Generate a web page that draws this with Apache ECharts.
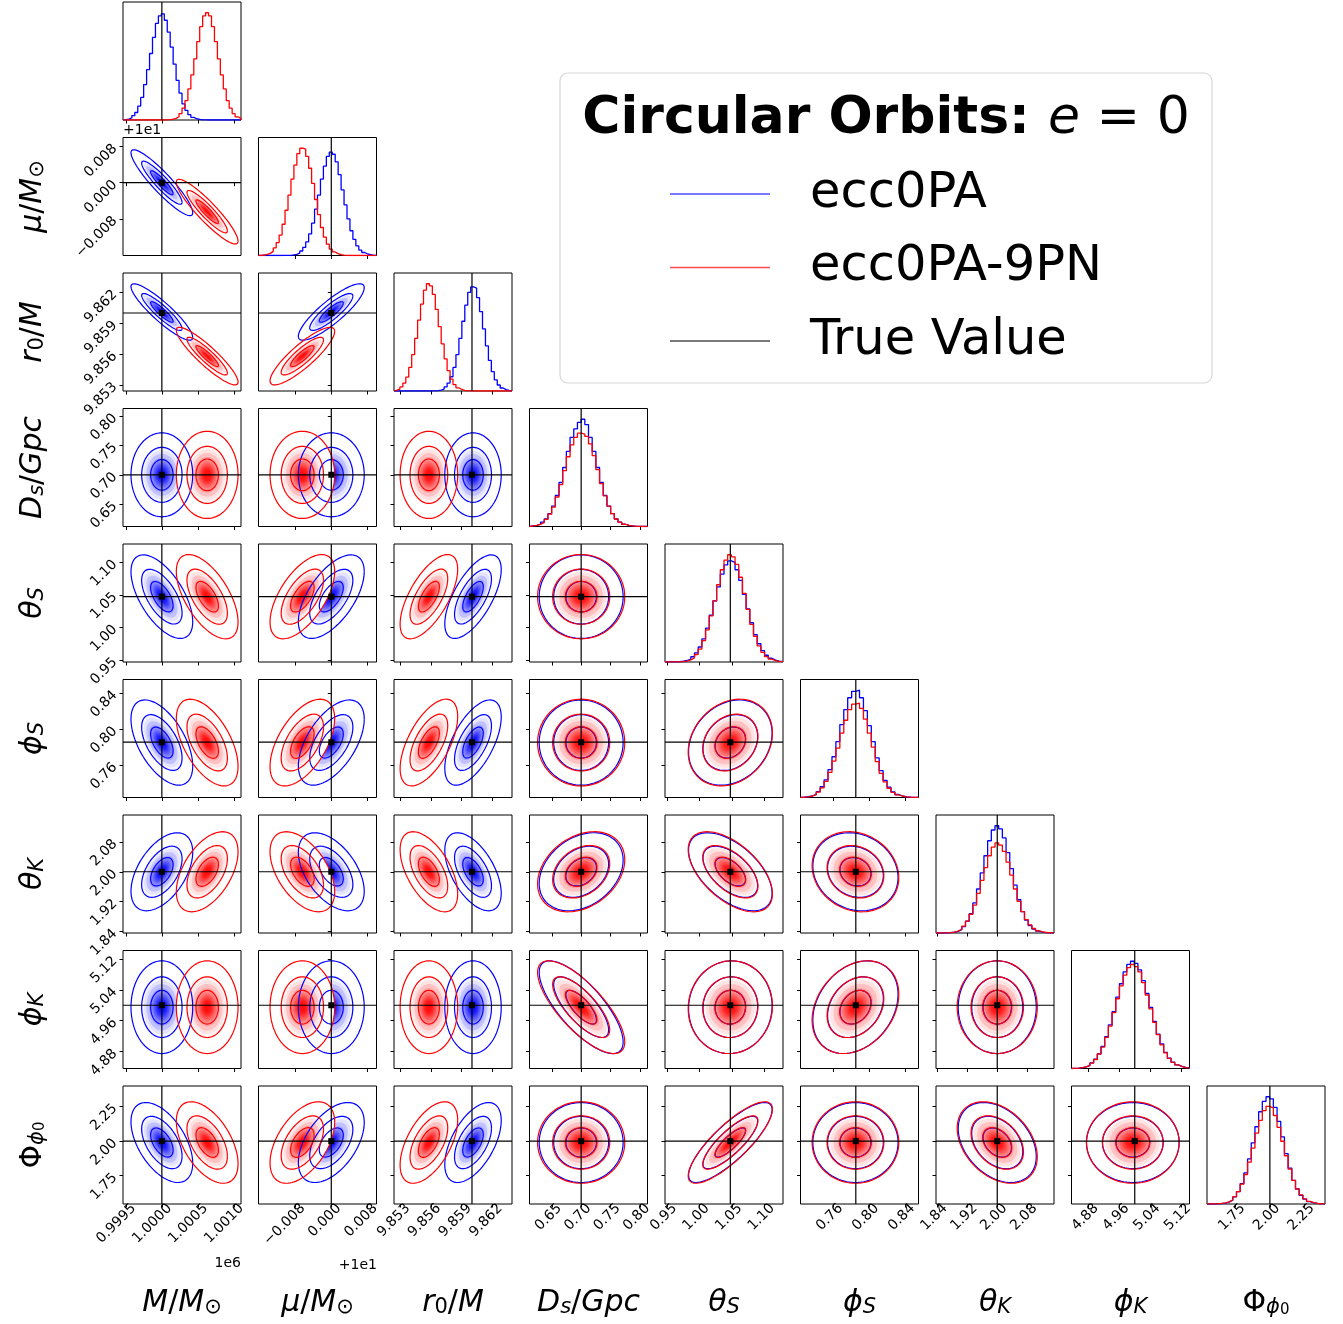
<!DOCTYPE html>
<html>
<head>
<meta charset="utf-8">
<title>Circular Orbits: e = 0</title>
<script src="https://cdn.jsdelivr.net/npm/echarts@6/dist/echarts.min.js"></script>
<style>
  html, body { margin: 0; padding: 0; background: #fff; }
  #chart { width: 1343px; height: 1324px; }
</style>
</head>
<body>
<div id="chart"></div>
<script>
// parameter order: M (x1e6), mu (offset +1e1), r0, Ds, thetaS, phiS, thetaK, phiK, Phi_phi0
const axisMin = [0.99946, -0.0161, 9.8524, 0.612, 0.947, 0.724, 1.836, 4.836, 1.546];
const axisMax = [1.0011, 0.0100, 9.8639, 0.813, 1.128, 0.855, 2.152, 5.142, 2.398];

const tickM = [0.9995, 1.0000, 1.0005, 1.0010];
const tickMu = [-0.008, 0, 0.008];
const tickR0 = [9.853, 9.856, 9.859, 9.862];
const tickDs = [0.65, 0.70, 0.75, 0.80];
const tickThetaS = [0.95, 1.00, 1.05, 1.10];
const tickPhiS = [0.76, 0.80, 0.84];
const tickThetaK = [1.84, 1.92, 2.00, 2.08];
const tickPhiK = [4.88, 4.96, 5.04, 5.12];
const tickPhi0 = [1.75, 2.00, 2.25];
const tickDecimals = [4, 3, 3, 2, 2, 2, 2, 2, 2];

const trueValues = [1.0, 0.0, 9.860, 0.70, 1.0472, 0.7854, 2.0, 5.0, 2.0];

// 2D posterior summaries (centre, spread, correlation)
const meanBlue = [1.0000, 0.0000, 9.8601, 0.700, 1.0472, 0.785, 2.000, 4.995, 1.990];
const meanRed = [1.00063, -0.0064, 9.8558, 0.700, 1.0472, 0.785, 2.000, 4.995, 1.990];
const sigmaBlue = [0.000156, 0.00265, 0.00100, 0.026, 0.0233, 0.0172, 0.038, 0.0437, 0.105];
const sigmaRed = [0.000156, 0.00260, 0.00102, 0.027, 0.0235, 0.0175, 0.039, 0.0437, 0.107];
const corrLower = [
  [],
  [-0.91],
  [-0.90, 0.86],
  [0, 0, 0],
  [-0.6, 0.6, 0.65, 0],
  [-0.55, 0.55, 0.6, 0, 0.22],
  [0.5, -0.5, -0.55, 0.3, -0.55, -0.15],
  [0, 0, 0, -0.75, 0.03, 0.28, 0],
  [-0.52, 0.5, 0.55, 0, 0.82, 0, -0.35, 0]
];

// 1D histograms (bins span the axis range)
const histBlueM = [0.4, 0.9, 2, 4, 7, 13, 21, 33, 47, 62, 77, 90, 97, 99, 93, 82, 68, 52, 37, 25, 15, 9, 5, 2.5, 1.2, 0.5, 0.2, 0.1, 0, 0, 0, 0, 0, 0, 0, 0, 0, 0, 0, 0];
const histRedM = [0, 0, 0, 0, 0, 0, 0, 0, 0, 0, 0, 0, 0, 0, 0.1, 0.3, 0.7, 1.5, 3, 6, 11, 18, 29, 42, 57, 73, 87, 97, 100, 97, 87, 73, 57, 42, 29, 18, 11, 6, 3, 1.5];
const histBlueMu = [0, 0, 0, 0, 0, 0, 0, 0, 0.05, 0.1, 0.2, 0.5, 1.1, 2.2, 4.2, 7.5, 12.6, 20, 30, 43, 56, 71, 83, 92, 96, 94, 87, 75, 61, 47, 34, 23, 15, 9, 5, 2.8, 1.4, 0.7, 0.3, 0.1];
const histRedMu = [0.2, 0.45, 1, 2, 3.8, 7, 12, 19, 29, 42, 56, 71, 84, 94.5, 99.6, 98.8, 92, 81, 67, 52, 38, 26, 17, 10.5, 6, 3.3, 1.7, 0.8, 0.35, 0.15, 0, 0, 0, 0, 0, 0, 0, 0, 0, 0];
const histBlueR0 = [0, 0, 0, 0, 0, 0, 0, 0, 0, 0, 0, 0, 0.05, 0.1, 0.3, 0.8, 1.8, 3.8, 7.4, 13.3, 22, 34, 49, 65, 80, 92, 97, 96, 87, 74, 58, 42, 28.5, 18, 10.4, 5.6, 2.8, 1.3, 0.6, 0.2];
const histRedR0 = [0.8, 1.8, 3.8, 7.4, 13, 22, 34, 49, 66, 81, 94, 100, 98, 90, 76, 60, 44, 30, 19, 11, 6, 3, 1.4, 0.6, 0.25, 0.1, 0, 0, 0, 0, 0, 0, 0, 0, 0, 0, 0, 0, 0, 0];
const histBlueDs = [0.5, 1, 2.1, 4, 7, 12, 19, 29, 41, 55, 70, 83, 91, 97, 100, 95, 83, 70, 55, 41, 29, 19, 12, 7, 4, 2.1, 1, 0.5, 0.2, 0.1, 0, 0];
const histRedDs = [0.5, 1, 2, 3.8, 6.6, 11.5, 18, 27.5, 39, 52, 65, 76, 83, 87, 86, 84, 77, 66, 53, 40, 28.5, 19, 12, 7, 4, 2.1, 1, 0.5, 0.2, 0.1, 0, 0];
const histBlueThetaS = [0.05, 0.1, 0.2, 0.35, 0.7, 1.4, 2.7, 4.9, 8.5, 14, 21.5, 31.5, 43.6, 57, 70, 82, 90.5, 94.3, 92.8, 86, 76, 63, 49.5, 36.6, 25.6, 17, 10.6, 6.3, 3.5, 1.8, 0.9, 0.4];
const histRedThetaS = [0, 0.05, 0.1, 0.2, 0.4, 0.9, 2, 3.8, 7, 12, 20, 30, 43, 57, 72, 86, 95, 100, 98, 91, 79, 64, 49, 35, 24, 15, 9, 5, 2.7, 1.3, 0.6, 0.3];
const histBluePhiS = [0.3, 0.7, 1.4, 2.9, 5.5, 10, 16.5, 26, 38, 52, 68, 82, 93, 99, 100, 93, 81, 67, 52, 37, 25, 16, 9.6, 5.3, 2.8, 1.4, 0.6, 0.3, 0.1, 0.05];
const histRedPhiS = [0.3, 0.6, 1.3, 2.6, 5, 9, 15, 23.5, 34, 46, 60, 72, 82, 87, 88, 83, 73, 60, 47, 33.5, 22.5, 14.5, 8.6, 4.8, 2.5, 1.2, 0.6, 0.3, 0.1, 0.05];
const histBlueThetaK = [0, 0, 0.05, 0.3, 0.7, 1.5, 3.2, 6, 11, 18, 28, 41, 56, 72, 86, 96, 100, 97, 88.6, 75, 60, 44.6, 31, 20, 12, 7, 3.7, 1.8, 0.8, 0.35, 0.15, 0.05];
const histRedThetaK = [0, 0.05, 0.15, 0.4, 0.9, 1.8, 3.5, 6.5, 11, 17.5, 26, 37, 49, 61, 72, 80, 84, 82, 76, 66, 54, 41, 29.5, 20, 12.5, 7.5, 4.2, 2.1, 1, 0.45, 0.2, 0.1];
const histBluePhiK = [0.2, 0.4, 0.8, 1.6, 3, 5.2, 8.6, 13.6, 20.6, 29.7, 40.7, 53, 66.5, 79, 90, 97, 100, 98, 92, 82, 70, 57, 44, 32, 23, 15, 9.7, 5.9, 3.4, 1.9, 1, 0.5];
const histRedPhiK = [0.2, 0.4, 0.8, 1.5, 2.9, 5, 8.4, 13.5, 20, 29, 39.5, 52, 65, 77, 87, 94, 97, 95, 90, 80, 68.5, 55.5, 43, 31.5, 22, 14.6, 9.4, 5.7, 3.3, 1.8, 0.9, 0.5];
const histBluePhi0 = [0.02, 0.05, 0.1, 0.35, 0.8, 1.8, 3.5, 6.6, 11.6, 19, 29, 42, 57, 72, 86, 95.6, 100, 98, 90, 77, 62.5, 47, 33.5, 22, 14, 8, 4.5, 2.3, 1.1, 0.5, 0.2, 0.1];
const histRedPhi0 = [0.05, 0.1, 0.25, 0.5, 1, 2, 3.8, 6.8, 11.5, 18.5, 27.5, 39, 52, 66, 78, 87, 91, 89.5, 82.5, 71.5, 58.5, 45, 32.5, 22, 14, 8.5, 4.8, 2.5, 1.2, 0.6, 0.25, 0.1];

const modelNames = ['ecc0PA', 'ecc0PA-9PN'];
const truthName = 'True Value';

// ---- tables built from the arrays above ----
const ticks = [tickM, tickMu, tickR0, tickDs, tickThetaS, tickPhiS, tickThetaK, tickPhiK, tickPhi0];
const histBlue = [histBlueM, histBlueMu, histBlueR0, histBlueDs, histBlueThetaS, histBluePhiS, histBlueThetaK, histBluePhiK, histBluePhi0];
const histRed = [histRedM, histRedMu, histRedR0, histRedDs, histRedThetaS, histRedPhiS, histRedThetaK, histRedPhiK, histRedPhi0];
const means = [meanBlue, meanRed];
const sigmas = [sigmaBlue, sigmaRed];
const hists = [histBlue, histRed];

// ---- style ----
const FONT = 'DejaVu Sans';
const modelColors = ['#0000ff', '#ff0000'];
const N = 9;
const L0 = 123, T0 = 2, STEP = 135.5, SIZE = 118;
const contourRadii = [1.0, 1.8, 2.75];
const maskRadius = 2.75;
const densityRadii = [1.9, 1.6, 1.38, 1.13, 0.98, 0.86, 0.77, 0.69, 0.62, 0.56, 0.51, 0.47, 0.43, 0.39, 0.35, 0.31, 0.26, 0.2];
const densityAlpha = [0.04, 0.07, 0.15, 0.15, 0.15, 0.15, 0.15, 0.15, 0.15, 0.15, 0.15, 0.15, 0.15, 0.15, 0.15, 0.15, 0.15, 0.15];

function fmtTick(v, p) {
  const s = Math.abs(v).toFixed(tickDecimals[p]);
  return v < 0 ? '\u2212' + s : s;
}

function ellipse(api, mx, my, sx, sy, rho, r) {
  const c = Math.sqrt(1 - rho * rho);
  const pts = [];
  for (let k = 0; k <= 96; k++) {
    const t = (k / 96) * Math.PI * 2;
    pts.push(api.coord([mx + r * sx * Math.cos(t), my + r * sy * (rho * Math.cos(t) + c * Math.sin(t))]));
  }
  return pts;
}

function histPoints(counts, p) {
  const n = counts.length;
  const w = (axisMax[p] - axisMin[p]) / n;
  const pts = [[axisMin[p], 0]];
  counts.forEach((c, k) => pts.push([axisMin[p] + k * w, c]));
  pts.push([axisMax[p], counts[n - 1]]);
  pts.push([axisMax[p], 0]);
  return pts;
}

const grids = [], xAxes = [], yAxes = [], series = [];

function tickLabel(p, show, isX) {
  const lab = {
    show: show,
    customValues: ticks[p],
    rotate: 45,
    margin: isX ? 10 : 8,
    fontFamily: FONT,
    fontSize: 14,
    color: '#000',
    formatter: (v) => fmtTick(v, p)
  };
  // x labels sit a little to the right of their tick (shift along and across the rotated text)
  if (isX) lab.padding = [22, -11, 0, 0];
  return lab;
}

for (let row = 0; row < N; row++) {
  for (let col = 0; col <= row; col++) {
    const g = grids.length;
    grids.push({
      left: L0 + col * STEP, top: T0 + row * STEP, width: SIZE, height: SIZE,
      show: true, borderColor: '#000', borderWidth: 1, backgroundColor: 'rgba(0,0,0,0)'
    });
    xAxes.push({
      type: 'value', gridIndex: g, min: axisMin[col], max: axisMax[col],
      axisLine: { show: false }, splitLine: { show: false },
      axisTick: { show: true, customValues: ticks[col], length: 3.5, lineStyle: { color: '#000', width: 1 } },
      axisLabel: tickLabel(col, row === N - 1, true)
    });

    if (row === col) {
      const ymax = 1.1 * Math.max(...histBlue[col], ...histRed[col]);
      yAxes.push({
        type: 'value', gridIndex: g, min: 0, max: ymax,
        axisLine: { show: false }, splitLine: { show: false },
        axisTick: { show: false }, axisLabel: { show: false }
      });
      [0, 1].forEach((m) => {
        series.push({
          type: 'line', name: modelNames[m], xAxisIndex: g, yAxisIndex: g,
          data: histPoints(hists[m][col], col), step: 'end', showSymbol: false, silent: true,
          itemStyle: { color: modelColors[m] },
          lineStyle: { color: modelColors[m], width: 1.3 }, z: 2
        });
      });
      series.push({
        type: 'custom', name: truthName, xAxisIndex: g, yAxisIndex: g, silent: true, clip: true, z: 3,
        itemStyle: { color: '#000' },
        data: [[trueValues[col], ymax]],
        renderItem: (params, api) => {
          const a = api.coord([api.value(0), 0]);
          const b = api.coord([api.value(0), api.value(1)]);
          return { type: 'line', shape: { x1: a[0], y1: a[1], x2: b[0], y2: b[1] }, style: { stroke: '#000', lineWidth: 1.2 } };
        }
      });
    } else {
      yAxes.push({
        type: 'value', gridIndex: g, min: axisMin[row], max: axisMax[row],
        axisLine: { show: false }, splitLine: { show: false },
        axisTick: { show: true, customValues: ticks[row], length: 3.5, lineStyle: { color: '#000', width: 1 } },
        axisLabel: tickLabel(row, col === 0, false)
      });
      const rho = corrLower[row][col];
      // fills: white base + density, blue first then red (as in corner)
      [0, 1].forEach((m) => {
        const sx = sigmas[m][col], sy = sigmas[m][row];
        series.push({
          type: 'custom', name: modelNames[m], xAxisIndex: g, yAxisIndex: g, silent: true, clip: true, z: 1,
          itemStyle: { color: modelColors[m] },
          data: [[means[m][col], means[m][row]]],
          renderItem: (params, api) => {
            const mx = api.value(0), my = api.value(1);
            const children = [{
              type: 'polygon', shape: { points: ellipse(api, mx, my, sx, sy, rho, maskRadius) },
              style: { fill: '#fff' }
            }];
            densityRadii.forEach((r, k) => children.push({
              type: 'polygon', shape: { points: ellipse(api, mx, my, sx, sy, rho, r) },
              style: { fill: modelColors[m], opacity: densityAlpha[k] }
            }));
            return { type: 'group', children: children };
          }
        });
      });
      // contour lines
      [0, 1].forEach((m) => {
        const sx = sigmas[m][col], sy = sigmas[m][row];
        series.push({
          type: 'custom', name: modelNames[m], xAxisIndex: g, yAxisIndex: g, silent: true, clip: true, z: 2,
          itemStyle: { color: modelColors[m] },
          data: [[means[m][col], means[m][row]]],
          renderItem: (params, api) => {
            const mx = api.value(0), my = api.value(1);
            return {
              type: 'group',
              children: contourRadii.map((r) => ({
                type: 'polyline', shape: { points: ellipse(api, mx, my, sx, sy, rho, r) },
                style: { stroke: modelColors[m], lineWidth: 1.2, fill: null }
              }))
            };
          }
        });
      });
      // truth crosshair + marker
      series.push({
        type: 'custom', name: truthName, xAxisIndex: g, yAxisIndex: g, silent: true, clip: true, z: 3,
        itemStyle: { color: '#000' },
        data: [[trueValues[col], trueValues[row]]],
        renderItem: (params, api) => {
          const tx = api.value(0), ty = api.value(1);
          const a = api.coord([tx, axisMin[row]]), b = api.coord([tx, axisMax[row]]);
          const c = api.coord([axisMin[col], ty]), d = api.coord([axisMax[col], ty]);
          const p = api.coord([tx, ty]);
          return {
            type: 'group',
            children: [
              { type: 'line', shape: { x1: a[0], y1: a[1], x2: b[0], y2: b[1] }, style: { stroke: '#000', lineWidth: 1.2 } },
              { type: 'line', shape: { x1: c[0], y1: c[1], x2: d[0], y2: d[1] }, style: { stroke: '#000', lineWidth: 1.2 } },
              { type: 'rect', shape: { x: p[0] - 3, y: p[1] - 3, width: 6, height: 6 }, style: { fill: '#000' } }
            ]
          };
        }
      });
    }
  }
}

// axis names (mathtext-like rich text)
const nameRich = {
  i: { fontFamily: FONT, fontStyle: 'italic', fontSize: 30, lineHeight: 36, verticalAlign: 'bottom', fill: '#000' },
  u: { fontFamily: FONT, fontSize: 30, lineHeight: 36, verticalAlign: 'bottom', fill: '#000' },
  si: { fontFamily: FONT, fontStyle: 'italic', fontSize: 21, lineHeight: 22, verticalAlign: 'bottom', fill: '#000' },
  su: { fontFamily: FONT, fontSize: 21, lineHeight: 22, verticalAlign: 'bottom', fill: '#000' },
  ssu: { fontFamily: FONT, fontSize: 15, lineHeight: 13, verticalAlign: 'bottom', fill: '#000' }
};
const axisNames = [
  '{i|M}{u|/}{i|M}{su|\u2299}',
  '{i|\u03bc}{u|/}{i|M}{su|\u2299}',
  '{i|r}{su|0}{u|/}{i|M}',
  '{i|D}{si|s}{u|/}{i|Gpc}',
  '{i|\u03b8}{si|S}',
  '{i|\u03d5}{si|S}',
  '{i|\u03b8}{si|K}',
  '{i|\u03d5}{si|K}',
  '{u|\u03a6}{si|\u03d5}{ssu|0}'
];

const graphic = [
  {
    type: 'rect', z: 0, silent: true,
    shape: { x: 560, y: 73, width: 652, height: 310, r: 8 },
    style: { fill: '#fff', stroke: '#d6d6d6', lineWidth: 1.2 }
  },
  {
    type: 'text', x: 886, y: 119, z: 5, silent: true,
    style: {
      text: '{b|Circular Orbits: }{e|e}{n| = 0}', align: 'center', verticalAlign: 'middle', fill: '#000',
      rich: {
        b: { fontFamily: FONT, fontWeight: 'bold', fontSize: 52, fill: '#000' },
        e: { fontFamily: FONT, fontStyle: 'italic', fontSize: 52, fill: '#000' },
        n: { fontFamily: FONT, fontSize: 52, fill: '#000' }
      }
    }
  },
  { type: 'text', x: 123, y: 130, silent: true, style: { text: '+1e1', fontFamily: FONT, fontSize: 14, fill: '#000', align: 'left', verticalAlign: 'middle' } },
  { type: 'text', x: 241, y: 1263, silent: true, style: { text: '1e6', fontFamily: FONT, fontSize: 14, fill: '#000', align: 'right', verticalAlign: 'middle' } },
  { type: 'text', x: 377, y: 1265, silent: true, style: { text: '+1e1', fontFamily: FONT, fontSize: 14, fill: '#000', align: 'right', verticalAlign: 'middle' } }
];
for (let p = 0; p < N; p++) {
  graphic.push({
    type: 'text', x: L0 + p * STEP + SIZE / 2, y: 1300, silent: true,
    style: { text: axisNames[p], rich: nameRich, align: 'center', verticalAlign: 'middle', fill: '#000' }
  });
  if (p > 0) {
    graphic.push({
      type: 'text', x: 30, y: T0 + p * STEP + SIZE / 2, rotation: Math.PI / 2, silent: true,
      style: { text: axisNames[p], rich: nameRich, align: 'center', verticalAlign: 'middle', fill: '#000' }
    });
  }
}

const chart = echarts.init(document.getElementById('chart'), null, { renderer: 'canvas' });
chart.setOption({
  animation: false,
  backgroundColor: '#fff',
  textStyle: { fontFamily: FONT },
  grid: grids,
  xAxis: xAxes,
  yAxis: yAxes,
  legend: {
    data: modelNames.concat([truthName]),
    orient: 'vertical', left: 670, top: 166, padding: 0,
    itemWidth: 100, itemHeight: 1.5, itemGap: 17.5,
    icon: 'rect', selectedMode: false,
    itemStyle: { opacity: 0.7 },
    textStyle: { fontFamily: FONT, fontSize: 49.5, color: '#000', lineHeight: 56, padding: [0, 0, 0, 35] }
  },
  graphic: graphic,
  series: series
});
</script>
</body>
</html>
